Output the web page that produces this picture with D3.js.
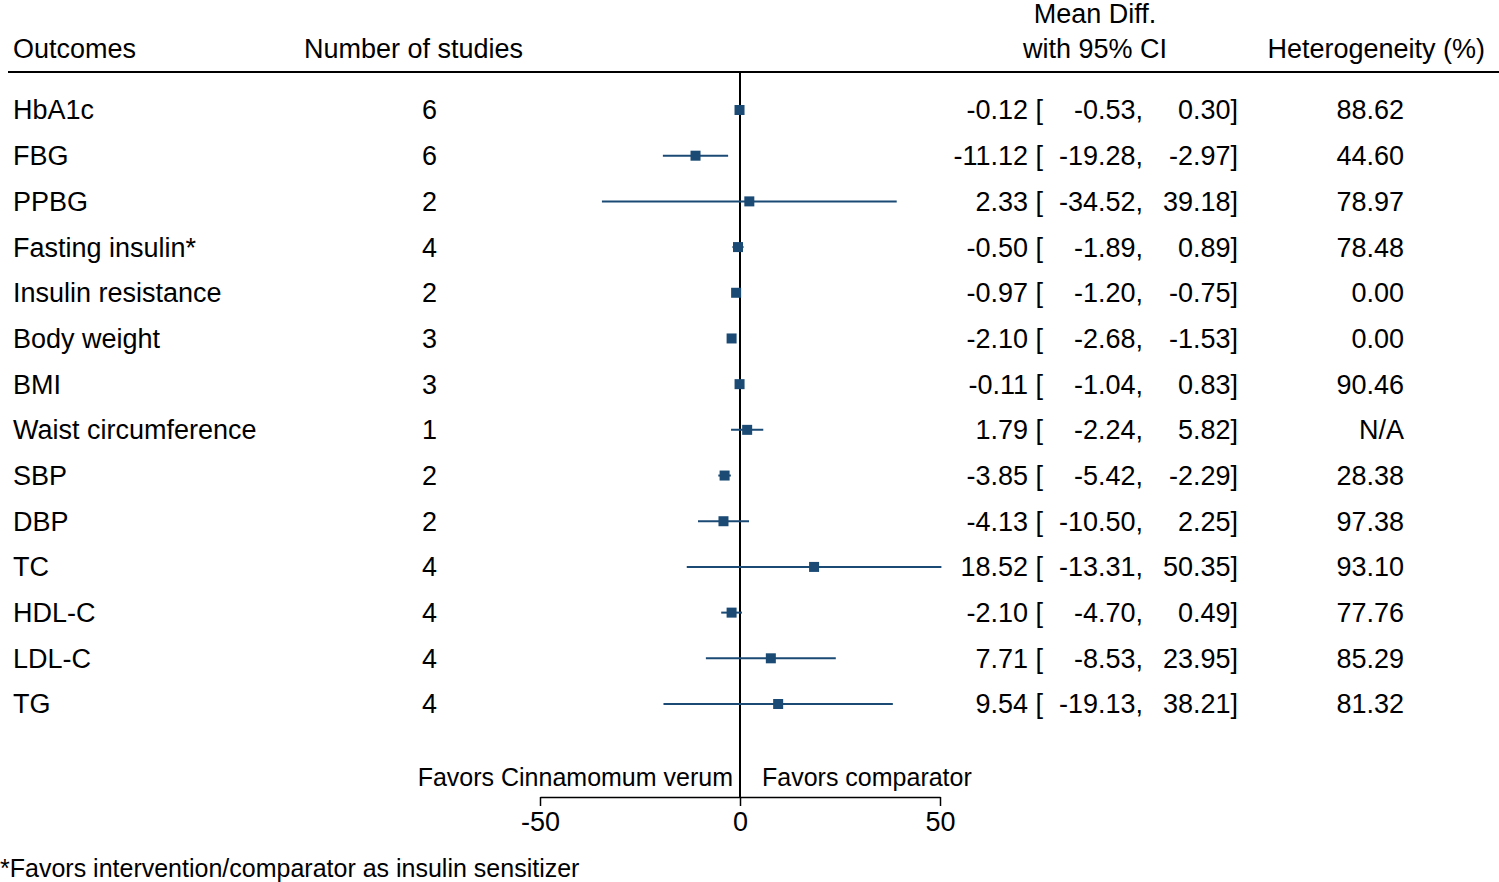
<!DOCTYPE html>
<html>
<head>
<meta charset="utf-8">
<script src="https://cdn.jsdelivr.net/npm/d3@7"></script>
<style>
  body { margin: 0; background: #fff; }
  text { font-family: "Liberation Sans", Arial, sans-serif; fill: #000; }
</style>
</head>
<body>
<div id="chart"></div>
<script>
// forest plot data
const outcomes = ["HbA1c", "FBG", "PPBG", "Fasting insulin*", "Insulin resistance", "Body weight", "BMI",
  "Waist circumference", "SBP", "DBP", "TC", "HDL-C", "LDL-C", "TG"];
const nStudies = [6, 6, 2, 4, 2, 3, 3, 1, 2, 2, 4, 4, 4, 4];
const meanDiff = [-0.12, -11.12, 2.33, -0.50, -0.97, -2.10, -0.11, 1.79, -3.85, -4.13, 18.52, -2.10, 7.71, 9.54];
const ciLow = [-0.53, -19.28, -34.52, -1.89, -1.20, -2.68, -1.04, -2.24, -5.42, -10.50, -13.31, -4.70, -8.53, -19.13];
const ciHigh = [0.30, -2.97, 39.18, 0.89, -0.75, -1.53, 0.83, 5.82, -2.29, 2.25, 50.35, 0.49, 23.95, 38.21];
const heterogeneity = ["88.62", "44.60", "78.97", "78.48", "0.00", "0.00", "90.46", "N/A", "28.38", "97.38",
  "93.10", "77.76", "85.29", "81.32"];
const xTicks = [-50, 0, 50];

const width = 1499;
const height = 882;
const fontSize = 27;
const markColor = "#1b4a74";

const svg = d3.select("#chart").append("svg")
    .attr("width", width)
    .attr("height", height);

// scales
const x = d3.scaleLinear().domain([-50, 50]).range([540, 940]);
const y = d3.scalePoint().domain(outcomes).range([110, 704]);

const rows = outcomes.map((o, i) => ({
  name: o, n: nStudies[i], md: meanDiff[i], lo: ciLow[i], hi: ciHigh[i], het: heterogeneity[i]
}));

// plain hyphen instead of unicode minus
const fmt = v => v.toFixed(2);

// headers
const head = svg.append("g").style("font-size", fontSize + "px");
head.append("text").attr("x", 13).attr("y", 58).text("Outcomes");
head.append("text").attr("x", 304).attr("y", 58).text("Number of studies");
head.append("text").attr("x", 1095).attr("y", 23).attr("text-anchor", "middle").text("Mean Diff.");
head.append("text").attr("x", 1095).attr("y", 58).attr("text-anchor", "middle").text("with 95% CI");
head.append("text").attr("x", 1485).attr("y", 58).attr("text-anchor", "end").text("Heterogeneity (%)");

svg.append("line")
    .attr("x1", 8).attr("x2", width)
    .attr("y1", 72).attr("y2", 72)
    .attr("stroke", "#000").attr("stroke-width", 2);

// zero line
svg.append("line")
    .attr("x1", x(0)).attr("x2", x(0))
    .attr("y1", 72).attr("y2", 797)
    .attr("stroke", "#000").attr("stroke-width", 2);

// table text
const row = svg.append("g").style("font-size", fontSize + "px")
  .selectAll("g")
  .data(rows)
  .join("g")
  .attr("transform", d => `translate(0,${y(d.name)})`);

row.append("text").attr("x", 13).attr("dy", "0.35em").text(d => d.name);
row.append("text").attr("x", 437).attr("dy", "0.35em").attr("text-anchor", "end").text(d => d.n);
row.append("text").attr("x", 1043).attr("dy", "0.35em").attr("text-anchor", "end").text(d => fmt(d.md) + " [");
row.append("text").attr("x", 1143).attr("dy", "0.35em").attr("text-anchor", "end").text(d => fmt(d.lo) + ",");
row.append("text").attr("x", 1238).attr("dy", "0.35em").attr("text-anchor", "end").text(d => fmt(d.hi) + "]");
row.append("text").attr("x", 1404).attr("dy", "0.35em").attr("text-anchor", "end").text(d => d.het);

// CI lines and markers
const marks = svg.append("g");
marks.selectAll("line")
  .data(rows)
  .join("line")
  .attr("x1", d => x(d.lo)).attr("x2", d => x(d.hi))
  .attr("y1", d => y(d.name)).attr("y2", d => y(d.name))
  .attr("stroke", markColor).attr("stroke-width", 2);

marks.selectAll("rect")
  .data(rows)
  .join("rect")
  .attr("x", d => x(d.md) - 5).attr("y", d => y(d.name) - 5)
  .attr("width", 10).attr("height", 10)
  .attr("fill", markColor);

// favors labels
svg.append("text").attr("x", 733).attr("y", 777).attr("dy", "0.35em")
    .attr("text-anchor", "end").style("font-size", "25px").text("Favors Cinnamomum verum");
svg.append("text").attr("x", 762).attr("y", 777).attr("dy", "0.35em")
    .style("font-size", "25px").text("Favors comparator");

// x axis
const axis = svg.append("g")
    .attr("transform", "translate(0,797)")
    .call(d3.axisBottom(x).tickValues(xTicks).tickSize(9).tickSizeOuter(0).tickPadding(6)
      .tickFormat(d => String(d)));
axis.selectAll("path, line").attr("stroke", "#000").attr("stroke-width", 1.5);
axis.selectAll("text").style("font-size", fontSize + "px")
    .style("font-family", "'Liberation Sans', Arial, sans-serif").attr("fill", "#000");

// footnote
svg.append("text").attr("x", 0).attr("y", 868).attr("dy", "0.35em")
    .style("font-size", "25px").text("*Favors intervention/comparator as insulin sensitizer");
</script>
</body>
</html>
